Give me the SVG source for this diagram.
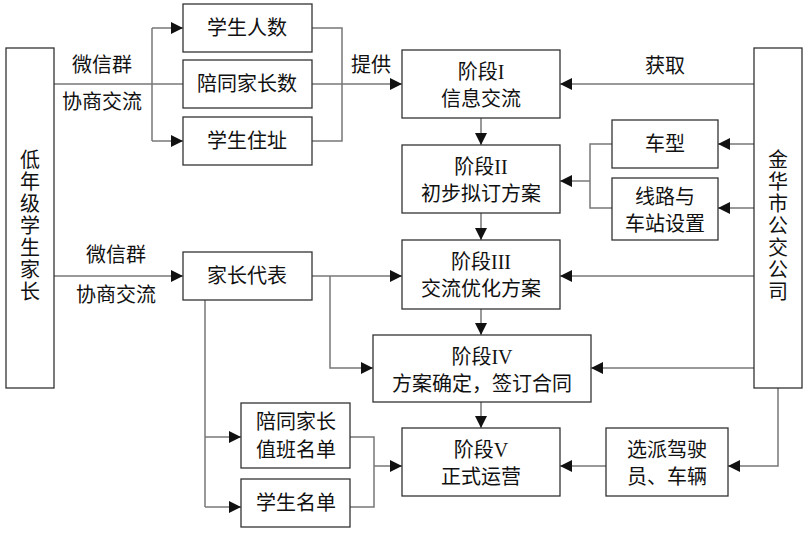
<svg xmlns="http://www.w3.org/2000/svg" width="808" height="534" viewBox="0 0 808 534">
<defs><marker id="a" viewBox="0 0 10 10" refX="10" refY="5" markerWidth="12" markerHeight="12" markerUnits="userSpaceOnUse" orient="auto"><path d="M0,0L10,5L0,10z" fill="#111"/></marker></defs>
<style>
rect{fill:#fff;stroke:#333;stroke-width:1.3}
rect.bg{stroke:none}
text{font-family:"Liberation Serif","Noto Sans CJK SC",serif;font-size:20px;fill:#111;text-anchor:middle}
.c path{fill:none;stroke:#777;stroke-width:1.5}
.c .ar{marker-end:url(#a)}
</style>
<rect class="bg" width="808" height="534"/>
<g class="c">
<path d="M54,84H402" class="ar"/>
<path d="M152,28V141"/><path d="M152,28H183" class="ar"/><path d="M152,141H183" class="ar"/>
<path d="M312,28H342V141H312"/>
<path d="M54,276H183" class="ar"/>
<path d="M312,276H402" class="ar"/>
<path d="M330,276V368H373" class="ar"/>
<path d="M205,300V507"/><path d="M205,437H241" class="ar"/><path d="M205,507H241" class="ar"/>
<path d="M350,437H374V507H350"/><path d="M374,466H402" class="ar"/>
<path d="M481,118V145" class="ar"/><path d="M481,213V240" class="ar"/><path d="M481,309V335" class="ar"/><path d="M481,402V428" class="ar"/>
<path d="M754,84H560" class="ar"/>
<path d="M754,144H718" class="ar"/><path d="M754,208H718" class="ar"/>
<path d="M612,144H590V208H612"/><path d="M590,181H560" class="ar"/>
<path d="M754,276H560" class="ar"/>
<path d="M754,368H591" class="ar"/>
<path d="M778,388V466H728" class="ar"/>
<path d="M606,466H560" class="ar"/>
</g>
<text x="102" y="72">微信群</text><text x="102" y="109">协商交流</text>
<text x="116" y="262">微信群</text><text x="116" y="302">协商交流</text>
<text x="371" y="72">提供</text><text x="665" y="73">获取</text>
<g id="parents"><rect x="6" y="48" width="48" height="340"/><text x="30" y="167">低</text><text x="30" y="189">年</text><text x="30" y="211">级</text><text x="30" y="233">学</text><text x="30" y="255">生</text><text x="30" y="277">家</text><text x="30" y="299">长</text></g>
<g id="n1"><rect x="183" y="4" width="129" height="48"/><text x="247" y="35">学生人数</text></g>
<g id="n2"><rect x="183" y="60" width="129" height="48"/><text x="247" y="91">陪同家长数</text></g>
<g id="n3"><rect x="183" y="117" width="129" height="48"/><text x="247" y="148">学生住址</text></g>
<g id="rep"><rect x="183" y="252" width="129" height="48"/><text x="247" y="283">家长代表</text></g>
<g id="duty"><rect x="241" y="403" width="109" height="65"/><text x="296" y="429">陪同家长</text><text x="296" y="457">值班名单</text></g>
<g id="slist"><rect x="241" y="479" width="109" height="48"/><text x="296" y="510">学生名单</text></g>
<g id="s1"><rect x="402" y="50" width="158" height="68"/><text x="481" y="79">阶段I</text><text x="481" y="106">信息交流</text></g>
<g id="s2"><rect x="402" y="145" width="158" height="68"/><text x="481" y="174">阶段II</text><text x="481" y="201">初步拟订方案</text></g>
<g id="s3"><rect x="402" y="240" width="158" height="69"/><text x="481" y="269">阶段III</text><text x="481" y="296">交流优化方案</text></g>
<g id="s4"><rect x="373" y="335" width="218" height="67"/><text x="482" y="364">阶段IV</text><text x="482" y="391">方案确定，签订合同</text></g>
<g id="s5"><rect x="402" y="428" width="158" height="68"/><text x="481" y="457">阶段V</text><text x="481" y="484">正式运营</text></g>
<g id="car"><rect x="612" y="120" width="106" height="48"/><text x="665" y="151">车型</text></g>
<g id="route"><rect x="612" y="178" width="106" height="62"/><text x="665" y="204">线路与</text><text x="665" y="231">车站设置</text></g>
<g id="drv"><rect x="606" y="428" width="122" height="68"/><text x="667" y="457">选派驾驶</text><text x="667" y="484">员、车辆</text></g>
<g id="bus"><rect x="754" y="48" width="48" height="340"/><text x="778" y="167">金</text><text x="778" y="189">华</text><text x="778" y="211">市</text><text x="778" y="233">公</text><text x="778" y="255">交</text><text x="778" y="277">公</text><text x="778" y="299">司</text></g>
</svg>
